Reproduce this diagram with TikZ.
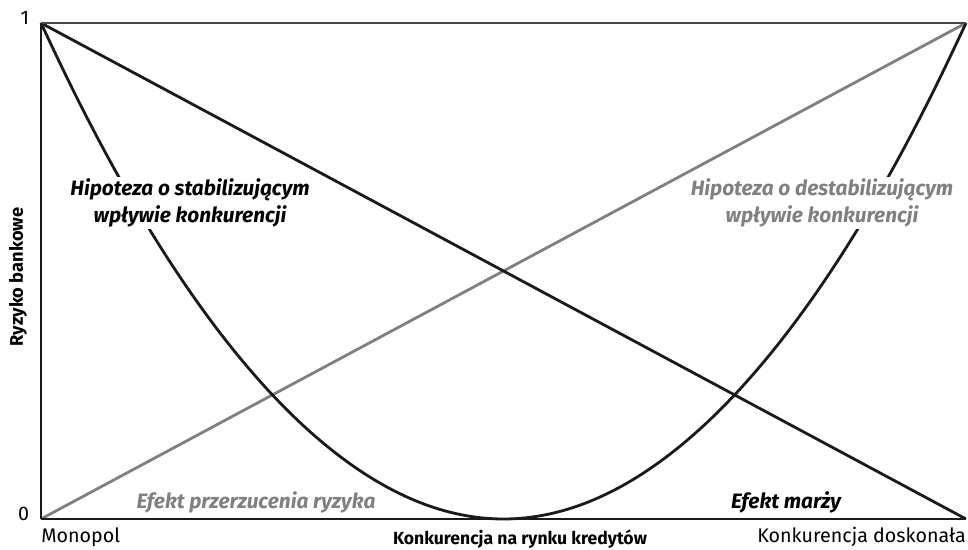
\documentclass[tikz,border=0pt]{standalone}
\usepackage{fontspec}
\setmainfont{Fira Sans}
\usepackage{tikz}
\usetikzlibrary{calc}

\definecolor{szary}{HTML}{808080}
\definecolor{ciemny}{HTML}{1A1A1A}

\begin{document}
\begin{tikzpicture}[
    x=0.025cm, y=-0.025cm, % jednostka = 1 piksel, os y w dol
    font=\fontsize{14pt}{17pt}\selectfont, % czcionka etykiet
    axis/.style={ciemny, line width=1.6pt}, % styl osi
    ramka/.style={ciemny!80, line width=1.1pt}, % gorna linia
    krzywa/.style={ciemny, line width=2pt}, % czarne krzywe
    szara/.style={szary, line width=2pt}, % szara prosta
    opis/.style={font=\fontsize{14.8pt}{19pt}\selectfont\bfseries\itshape, align=center, fill=white, inner sep=1pt} % opisy hipotez
]
    \useasboundingbox (0,0) rectangle (968,550);

    % --- Punkty charakterystyczne ---
    \coordinate (O) at (41,519);   % poczatek ukladu
    \coordinate (A) at (41,23);    % ryzyko 1, monopol
    \coordinate (B) at (966,519);  % ryzyko 0, konkurencja doskonala
    \coordinate (C) at (966,23);   % ryzyko 1, konkurencja doskonala
    \coordinate (M) at (503.5,519); % minimum paraboli

    % --- Krzywe ---
    \draw[szara] (O) -- (C); % hipoteza o destabilizujacym wplywie
    \draw[krzywa] (A) -- (B); % hipoteza o stabilizujacym wplywie
    \draw[krzywa] (A) parabola bend (M) (C); % krzywa U

    % --- Osie ---
    \draw[ramka] (A) -- (C);
    \draw[axis] (O) -- (B);
    \draw[axis] (O) -- (A);

    % --- Etykiety osi ---
    \node[anchor=east] (jeden) at ($(A)+(-7,-5)$) {1};
    \node[anchor=east] (zero) at ($(O)+(-7,-5)$) {0};
    \node[anchor=north west, inner sep=0pt] (monopol) at ($(O)+(0,8)$) {Monopol};
    \node[anchor=north east, inner sep=0pt] (doskonala) at ($(B)+(0,8)$) {Konkurencja doskonała};
    \node[anchor=north, inner sep=0pt, font=\fontsize{12.5pt}{16pt}\selectfont\bfseries] (ox) at (520,530) {Konkurencja na rynku kredytów};
    \node[rotate=90, font=\fontsize{13pt}{16pt}\selectfont\bfseries] (oy) at (18,277) {Ryzyko bankowe};

    % --- Opisy ---
    \node[opis] (stab) at (190,203) {Hipoteza o stabilizującym\\wpływie konkurencji};
    \node[opis, text=szary] (destab) at (822,203) {Hipoteza o destabilizującym\\wpływie konkurencji};
    \node[opis, text=szary, fill=none] (przerz) at (256,502) {Efekt przerzucenia ryzyka};
    \node[opis, fill=none] (marza) at (786,502) {Efekt marży};

\end{tikzpicture}
\end{document}
